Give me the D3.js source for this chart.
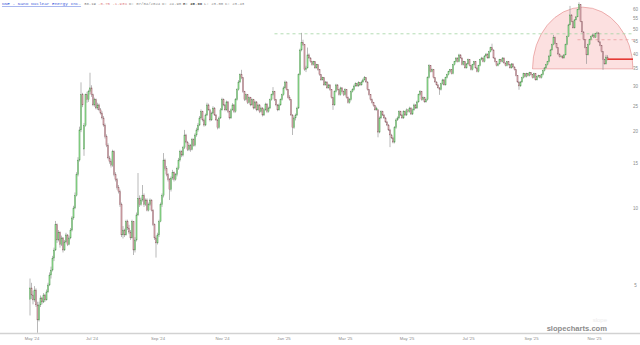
<!DOCTYPE html>
<html>
<head>
<meta charset="utf-8">
<script src="https://cdn.jsdelivr.net/npm/d3@7"></script>
<style>
body { margin: 0; background: #fff; }
</style>
</head>
<body>
<div id="chart"></div>
<script>
const CHART_WIDTH = 640;
const CHART_HEIGHT = 345;

// daily candles [open, high, low, close], grouped by the two-month spans of the x axis
const mayJun24 = [[4.40,5.30,3.80,4.87],[4.87,5.10,4.40,4.57],[4.57,4.75,4.20,4.37],[4.37,4.95,4.30,4.78],[4.78,4.85,4.10,4.18],
  [4.18,4.30,3.25,3.65],[3.65,4.30,3.60,4.18],[4.18,4.55,4.10,4.45],[4.45,4.50,4.20,4.29],[4.29,4.65,4.25,4.57],
  [4.57,4.62,4.30,4.37],[4.37,4.80,4.35,4.70],[4.70,5.10,4.65,5.00],[5.00,5.60,4.95,5.47],[5.47,5.90,5.30,5.72],
  [5.72,6.50,5.65,6.37],[6.37,7.00,6.20,6.85],[6.85,8.90,6.80,8.60],[8.60,8.70,7.30,7.50],[7.50,8.20,7.40,8.05],
  [8.05,8.10,7.00,7.20],[7.20,7.80,7.10,7.64],[7.64,7.70,6.70,6.85],[6.85,7.50,6.80,7.37],[7.37,8.00,7.30,7.85],
  [7.85,7.90,7.10,7.20],[7.20,7.80,7.15,7.64],[7.64,8.35,7.55,8.20],[8.20,9.30,8.10,9.15],[9.15,10.2,9.00,10.0],
  [10.0,11.5,9.90,11.2],[11.2,13.8,11.1,13.5],[13.5,15.8,13.3,15.4],[15.4,20.8,15.2,20.2],[20.2,31.0,19.8,27.7],
  [27.7,28.2,24.8,25.3],[17.0,21.5,16.0,21.0],[21.0,28.0,20.8,27.7],[27.7,28.5,25.8,26.5],[26.5,29.0,26.0,28.5]];
const julAug24 = [[28.5,33.8,27.8,29.5],[29.5,30.2,27.2,27.7],[27.7,28.0,25.0,25.3],[25.3,27.0,24.9,26.5],[26.5,26.8,24.3,24.6],
  [24.6,25.8,24.2,25.3],[25.3,25.6,23.9,24.2],[24.2,24.6,23.2,23.5],[23.5,23.9,22.2,22.5],[22.5,22.9,20.8,21.1],
  [21.1,21.4,18.7,19.0],[19.0,19.4,17.3,17.6],[17.6,17.9,15.5,15.7],[15.7,16.0,14.9,15.2],[15.2,15.5,14.4,14.7],
  [14.7,16.9,14.5,16.6],[16.6,16.8,13.3,13.5],[13.5,13.8,12.7,12.9],[12.9,13.1,11.8,12.0],[12.0,12.3,11.4,11.6],
  [11.6,11.8,10.1,10.3],[10.3,10.5,7.7,7.85],[7.85,8.5,7.6,8.2],[8.2,8.3,7.7,7.85],[7.85,9.0,7.8,8.85],
  [8.85,9.0,8.2,8.35],[8.35,8.6,7.9,8.05],[8.05,8.2,7.5,7.64],[7.64,9.0,7.6,8.85],[8.85,8.9,6.55,6.85],
  [6.85,7.7,6.7,7.5],[7.5,9.6,7.4,9.4],[9.4,13.7,9.3,10.9],[10.9,11.2,10.1,10.3],[10.3,11.0,10.2,10.75],
  [10.75,12.3,10.6,11.2],[11.2,11.4,10.1,10.3],[10.3,10.9,10.2,10.75],[10.75,10.9,9.7,9.8],[9.8,10.5,9.7,10.3],
  [10.3,10.9,10.2,10.75],[10.75,10.8,9.7,9.8],[9.8,9.9,8.5,8.6],[8.6,8.7,7.5,7.64]];
const sepOct24 = [[7.64,7.8,6.4,7.3],[7.3,8.0,7.2,7.85],[7.85,9.0,7.7,8.85],[8.85,10.5,8.8,10.3],[10.3,11.4,10.1,11.2],
  [11.2,16.4,11.0,15.4],[15.4,15.6,14.0,14.3],[14.3,14.6,13.3,13.5],[13.5,13.7,12.7,12.9],[12.9,13.1,10.75,11.8],
  [11.8,13.3,11.6,13.1],[13.1,14.1,12.9,13.8],[13.8,13.9,12.7,12.9],[12.9,13.7,12.8,13.5],[13.5,14.5,13.3,14.3],
  [14.3,15.7,14.1,15.4],[15.4,16.9,15.2,16.6],[16.6,16.8,15.8,16.1],[16.1,17.5,15.9,17.2],[17.2,20.2,17.0,19.3],
  [19.3,19.5,17.9,18.1],[18.1,18.3,16.7,16.9],[16.9,17.9,16.7,17.6],[17.6,17.8,16.6,16.9],[16.9,18.8,16.8,18.5],
  [18.5,18.7,17.4,17.6],[17.6,19.6,17.4,19.3],[19.3,20.6,19.0,20.2],[20.2,21.5,19.9,21.1],[21.1,22.9,20.9,22.5],
  [22.5,24.3,22.2,23.8],[23.8,24.0,21.8,22.1],[22.1,22.4,20.8,21.1],[21.1,23.4,20.9,23.1],[23.1,25.8,22.9,25.3],
  [25.3,25.6,24.0,24.2],[24.2,24.4,21.8,22.1],[22.1,23.8,21.9,23.5],[23.5,25.0,23.3,24.6],[24.6,24.8,22.9,23.1],
  [23.1,23.3,21.9,22.1],[22.1,22.3,20.3,20.6],[20.6,22.8,20.4,22.5]];
const novDec24 = [[22.5,24.6,22.3,24.2],[24.2,27.0,24.0,26.5],[26.5,26.8,25.0,25.3],[25.3,25.5,23.9,24.2],[24.2,26.3,24.0,26.0],
  [26.0,26.2,23.5,23.8],[23.8,24.0,22.2,22.5],[22.5,24.5,22.3,24.2],[24.2,25.7,24.0,25.3],[25.3,25.5,23.5,23.8],
  [23.8,26.9,23.6,26.5],[26.5,29.4,26.3,29.0],[29.0,31.6,28.8,31.1],[31.1,33.6,30.8,33.2],[33.2,34.7,31.9,32.3],
  [32.3,32.5,28.2,28.5],[28.5,28.7,26.2,26.5],[26.5,28.0,26.3,27.7],[27.7,27.9,25.5,25.8],[25.8,27.3,25.6,27.0],
  [27.0,27.2,25.0,25.3],[25.3,26.8,25.1,26.5],[26.5,26.7,24.3,24.6],[24.6,26.3,24.4,26.0],[26.0,26.2,23.9,24.2],
  [24.2,25.6,24.0,25.3],[25.3,25.5,23.5,23.8],[23.8,24.9,23.6,24.6],[24.6,24.8,22.8,23.1],[23.1,24.5,22.9,24.2],
  [24.2,25.8,24.0,25.5],[25.5,25.7,23.5,23.8],[23.8,24.9,23.6,24.6],[24.6,26.8,24.4,26.5],[26.5,28.0,26.3,27.7],
  [27.7,29.7,27.5,28.5],[28.5,28.7,26.2,26.5],[26.5,26.7,25.0,25.3],[25.3,25.5,23.9,24.2],[24.2,25.6,24.0,25.3],
  [25.3,26.8,25.1,26.5]];
const janFeb25 = [[26.5,28.0,26.3,27.7],[27.7,29.9,27.5,29.5],[29.5,31.5,29.3,31.1],[31.1,31.3,28.8,29.0],[29.0,29.2,26.8,27.0],
  [27.0,27.6,26.3,26.5],[26.5,26.7,22.9,23.1],[23.1,23.3,19.3,20.6],[20.6,22.8,20.4,22.5],[22.5,23.4,22.0,23.1],
  [23.1,24.9,22.9,24.6],[24.6,33.6,24.4,33.2],[33.2,42.0,33.0,41.5],[41.5,48.4,41.0,44.3],[44.3,45.5,43.0,43.5],
  [43.5,43.8,34.4,34.7],[34.7,36.0,34.0,35.3],[35.3,42.4,35.1,39.7],[39.7,40.2,38.3,38.6],[38.6,38.9,37.0,37.3],
  [37.3,37.6,36.0,36.3],[36.3,37.6,36.1,37.3],[37.3,37.5,35.0,35.3],[35.3,36.6,35.1,36.3],[36.3,36.5,34.4,34.7],
  [34.7,34.9,32.9,33.2],[33.2,33.4,31.4,31.7],[31.7,32.6,31.5,32.3],[32.3,32.5,30.0,30.3],[30.3,31.4,30.1,31.1],
  [31.1,31.3,29.2,29.5],[29.5,30.6,29.3,30.3],[30.3,30.5,28.7,29.0],[29.0,29.2,26.8,27.0],[27.0,27.2,24.2,25.3],
  [25.3,28.8,25.1,28.5],[28.5,30.6,28.3,30.3],[30.3,30.5,28.8,29.0],[29.0,29.2,27.5,27.7],[27.7,29.8,27.5,29.5],
  [29.5,29.7,28.3,28.5]];
const marApr25 = [[28.5,28.8,27.4,27.7],[27.7,29.4,27.5,29.0],[29.0,29.2,26.8,27.0],[27.0,27.3,25.6,25.8],[25.8,26.9,25.6,26.5],
  [26.5,28.8,26.3,28.5],[28.5,29.4,28.3,29.0],[29.0,30.4,28.8,30.0],[30.0,31.0,29.8,30.6],[30.6,30.8,29.8,30.0],
  [30.0,31.3,29.8,30.9],[30.9,31.1,30.0,30.3],[30.3,31.5,30.1,31.1],[31.1,32.1,30.9,31.7],[31.7,32.8,31.5,32.3],
  [32.3,32.5,30.9,31.1],[31.1,31.3,28.8,29.0],[29.0,29.2,27.5,27.7],[27.7,27.9,26.3,26.5],[26.5,26.8,25.6,25.8],
  [25.8,26.0,24.9,25.1],[25.1,25.3,24.0,24.2],[24.2,24.9,24.0,24.6],[24.2,24.4,18.9,19.8],[19.8,22.8,19.6,22.5],
  [22.5,24.1,22.3,23.8],[23.8,24.0,22.9,23.1],[23.1,23.3,22.3,22.5],[22.5,22.7,21.5,21.7],[21.7,21.9,20.9,21.1],
  [21.1,21.3,20.0,20.2],[20.2,20.4,17.3,19.3],[19.3,19.5,18.6,18.8],[18.8,19.0,17.9,18.1],[18.1,20.9,17.9,20.6],
  [20.6,22.4,20.4,22.1],[22.1,22.8,21.9,22.5],[22.5,24.1,22.3,23.8],[23.8,24.0,22.9,23.1],[23.1,23.3,22.3,22.5],
  [22.5,24.1,22.3,23.8]];
const mayJun25 = [[23.8,24.0,22.9,23.1],[23.1,24.5,22.9,24.2],[24.2,24.4,23.6,23.8],[23.8,24.9,23.6,24.6],[24.6,24.8,23.1,23.3],
  [23.3,24.5,23.1,24.2],[24.2,25.6,24.0,25.3],[25.3,25.5,24.4,24.6],[24.6,26.3,24.4,26.0],[26.0,28.0,25.8,27.7],
  [27.7,28.9,27.5,28.5],[28.5,28.7,26.3,26.5],[26.5,27.3,26.3,27.0],[27.0,27.2,25.8,26.0],[26.0,26.8,25.8,26.5],
  [26.5,32.7,26.3,32.3],[32.3,36.5,32.1,36.0],[36.0,36.2,33.9,34.1],[34.1,35.1,33.9,34.7],[34.7,34.9,32.1,32.3],
  [32.3,32.5,30.9,31.1],[31.1,31.3,30.1,30.3],[30.3,30.5,29.3,29.5],[29.5,29.7,27.7,29.0],[29.0,30.9,28.8,30.6],
  [30.6,32.0,30.4,31.7],[31.7,31.9,30.1,30.3],[30.3,32.6,30.1,32.3],[32.3,33.5,32.1,33.2],[33.2,34.4,33.0,34.1],
  [34.1,35.0,33.9,34.7],[34.7,34.9,33.3,33.5],[33.5,36.6,33.3,36.3],[36.3,37.6,36.1,37.3],[37.3,38.9,37.1,38.6],
  [38.6,38.8,37.1,37.3],[37.3,40.1,37.1,39.7],[39.7,39.9,38.4,38.6],[38.6,38.8,36.1,36.3],[36.3,37.6,36.1,37.3],
  [37.3,37.5,35.1,35.3]];
const julAug25 = [[35.3,36.9,35.1,36.6],[36.6,38.4,36.4,38.0],[38.0,38.2,35.8,36.0],[36.0,36.2,34.5,34.7],[34.7,36.6,34.5,36.3],
  [36.3,37.6,36.1,37.3],[37.3,37.5,35.1,35.3],[35.3,35.5,33.9,34.1],[34.1,36.3,33.9,36.0],[36.0,38.3,35.8,38.0],
  [38.0,39.0,37.8,38.6],[38.6,38.8,37.1,37.3],[37.3,39.6,37.1,39.3],[39.3,40.4,39.1,40.0],[40.0,40.2,38.4,38.6],
  [38.6,41.2,38.4,40.8],[40.8,42.7,40.6,42.3],[42.3,43.9,41.3,41.5],[41.5,41.7,38.4,38.6],[38.6,38.8,37.1,37.3],
  [37.3,37.5,35.8,36.0],[36.0,36.9,35.8,36.6],[36.6,38.3,36.4,38.0],[38.0,38.2,37.1,37.3],[37.3,38.9,37.1,38.6],
  [38.6,38.8,36.7,36.9],[36.9,37.1,35.8,36.0],[36.0,37.6,35.8,37.3],[37.3,37.5,36.1,36.3],[36.3,36.5,35.1,35.3],
  [35.3,36.9,35.1,36.6],[36.6,36.8,35.4,35.6],[35.6,35.8,34.5,34.7],[34.7,34.9,32.7,32.9],[32.9,33.1,30.9,31.1],
  [31.1,31.3,29.0,30.0],[30.0,31.4,29.8,31.1],[31.1,32.6,30.9,32.3],[32.3,33.8,32.1,33.5],[33.5,33.7,32.4,32.6],
  [32.6,33.8,32.4,33.5],[33.5,33.7,32.7,32.9]];
const sepOct25 = [[32.9,34.1,32.7,33.8],[33.8,34.0,33.0,33.2],[33.2,33.4,32.1,32.3],[32.3,33.8,32.1,33.5],[33.5,33.7,31.5,31.7],
  [31.7,32.9,31.5,32.6],[32.6,33.2,32.4,32.9],[32.9,33.1,32.1,32.3],[32.3,33.5,32.1,33.2],[33.2,34.7,33.0,34.4],
  [34.4,35.6,34.2,35.3],[35.3,36.6,35.1,36.3],[36.3,37.6,36.1,37.3],[37.3,39.7,37.1,39.3],[39.3,41.9,39.1,41.5],
  [41.5,43.9,41.3,43.5],[43.5,47.5,43.3,46.4],[46.4,46.8,43.7,43.9],[43.9,44.2,42.1,42.3],[42.3,42.5,39.8,40.0],
  [40.0,40.2,38.8,39.0],[39.0,39.6,38.8,39.3],[39.3,39.5,38.4,38.6],[38.6,40.0,38.4,39.7],[39.7,43.9,39.5,43.5],
  [43.5,47.2,43.3,46.8],[46.8,52.5,46.6,52.0],[52.0,61.7,51.8,56.9],[56.9,57.2,53.3,53.5],[53.5,53.8,50.4,50.6],
  [50.6,54.8,50.4,54.4],[54.4,56.3,54.2,55.9],[55.9,60.0,55.7,59.6],[59.6,63.7,59.4,62.3],[62.3,62.6,53.3,53.5],
  [53.5,53.8,48.6,48.8],[48.8,49.1,45.3,45.5],[45.5,45.8,42.1,42.3],[42.3,42.6,36.6,39.7],[39.7,43.9,39.5,43.5],
  [43.5,45.9,43.3,45.5],[45.5,47.2,45.3,46.8]];
const nov25 = [[46.8,48.0,46.6,47.5],[47.5,47.8,46.2,46.4],[46.4,48.4,46.2,48.0],[48.0,49.0,47.8,48.4],[48.4,48.7,44.4,44.6],
  [44.6,44.9,42.9,43.1],[43.1,43.4,40.6,40.8],[40.8,41.1,34.7,38.0],[38.0,38.3,36.4,36.6],[36.6,39.7,36.4,38.94],
  [38.94,39.6,37.8,38.19]];

const X_LABELS = ["May '24", "Jul '24", "Sep '24", "Nov '24", "Jan '25", "Mar '25", "May '25", "Jul '25", "Sep '25", "Nov '25"];
const Y_TICKS = [5, 10, 15, 20, 25, 30, 35, 40, 45, 50, 55, 60];

const LAST_PRICE = 38.19;
const HIGH_LINE = 48.0;   // green dashed line (Jan '25 high)
const MID_LINE = 45.5;    // red dashed line
const DOME = {from: 335, to: 402, base: 35, top: 61}; // rounded-top drawing (candle index, price)

const segments = [mayJun24, julAug24, sepOct24, novDec24, janFeb25, marApr25, mayJun25, julAug25, sepOct25, nov25];
const candles = segments.flat();

// first candle of each span gets the axis label
let tickIdx = [];
let count = 0;
segments.forEach((s) => { tickIdx.push(count); count += s.length; });

const x = d3.scaleLinear()
  .domain([0, candles.length - 1])
  .range([30, 607.5]);

const y = d3.scaleLog() // price axis is logarithmic
  .domain([5, 60])
  .range([285, 9]);

var chart = d3.select("#chart")
  .append("svg")
  .attr("width", CHART_WIDTH)
  .attr("height", CHART_HEIGHT)
  .style("font-family", "'Liberation Sans', Arial, sans-serif");

chart.append("rect")
  .attr("width", CHART_WIDTH)
  .attr("height", CHART_HEIGHT)
  .attr("fill", "#fff");

// watermark
chart.append("text")
  .attr("x", 607).attr("y", 322)
  .attr("text-anchor", "end")
  .attr("font-size", 6)
  .attr("fill", "#ececec")
  .text("slope");
chart.append("text")
  .attr("x", 607).attr("y", 331)
  .attr("text-anchor", "end")
  .attr("font-size", 7.6)
  .attr("font-weight", "bold")
  .attr("fill", "#8c8c8c")
  .text("slopecharts.com");

// dome drawing
const dx0 = x(DOME.from), dx1 = x(DOME.to), dyb = y(DOME.base);
chart.append("path")
  .attr("d", `M${dx0},${dyb} A${(dx1 - dx0) / 2},${dyb - y(DOME.top)} 0 0 1 ${dx1},${dyb} Z`)
  .attr("fill", "rgba(240,100,100,0.2)")
  .attr("stroke", "rgba(215,90,90,0.6)")
  .attr("stroke-width", 0.7);

// dashed level lines
chart.append("line")
  .attr("x1", x(163)).attr("x2", 634)
  .attr("y1", y(HIGH_LINE)).attr("y2", y(HIGH_LINE))
  .attr("stroke", "#9fd39f")
  .attr("stroke-width", 0.8)
  .attr("stroke-dasharray", "3,3");
chart.append("line")
  .attr("x1", x(365)).attr("x2", 634)
  .attr("y1", y(MID_LINE)).attr("y2", y(MID_LINE))
  .attr("stroke", "#e8a0a0")
  .attr("stroke-width", 0.8)
  .attr("stroke-dasharray", "3,3");

// candles
var g = chart.append("g").attr("class", "candles");

g.selectAll("line.wick")
  .data(candles)
  .join("line")
    .attr("class", "wick")
    .attr("x1", (d, i) => x(i)).attr("x2", (d, i) => x(i))
    .attr("y1", (d) => y(d[1]))
    .attr("y2", (d) => y(d[2]))
    .attr("stroke", "#8a8a8a")
    .attr("stroke-width", 0.6);

g.selectAll("rect.body")
  .data(candles)
  .join("rect")
    .attr("class", "body")
    .attr("x", (d, i) => x(i) - 0.6)
    .attr("width", 1.2)
    .attr("y", (d) => y(Math.max(d[0], d[3])))
    .attr("height", (d) => Math.max(0.7, Math.abs(y(d[0]) - y(d[3]))))
    .attr("fill", (d) => d[3] >= d[0] ? "#84cf84" : "#cc9ca2")
    .attr("stroke", (d) => d[3] >= d[0] ? "#5f9f5f" : "#9a6a72")
    .attr("stroke-width", 0.3);

// last price line
chart.append("line")
  .attr("x1", x(candles.length - 1)).attr("x2", 633)
  .attr("y1", y(LAST_PRICE)).attr("y2", y(LAST_PRICE))
  .attr("stroke", "#e53935")
  .attr("stroke-width", 1.6);

// right price axis
chart.append("g")
  .selectAll("text")
  .data(Y_TICKS)
  .join("text")
    .attr("x", 635.5)
    .attr("y", (d) => y(d) + 1.6)
    .attr("text-anchor", "middle")
    .attr("font-size", 4.5)
    .attr("fill", "#8a8a8a")
    .text((d) => d);

// bottom axis
chart.append("line")
  .attr("x1", 0).attr("x2", CHART_WIDTH)
  .attr("y1", 333.5).attr("y2", 333.5)
  .attr("stroke", "#d2d2d2")
  .attr("stroke-width", 1.4);

chart.append("g")
  .selectAll("text")
  .data(X_LABELS)
  .join("text")
    .attr("x", (d, i) => x(tickIdx[i]) + 2)
    .attr("y", 339.5)
    .attr("text-anchor", "middle")
    .attr("font-size", 4.2)
    .attr("fill", "#8a8a8a")
    .text((d) => d);

// header line
var header = chart.append("g")
  .attr("font-family", "'Liberation Mono', 'DejaVu Sans Mono', monospace");

header.append("text")
  .attr("x", 2).attr("y", 5)
  .attr("font-size", 4.4)
  .attr("fill", "#3b5bdb")
  .attr("text-decoration", "underline")
  .text("NNE - Nano Nuclear Energy Inc.");

const headerParts = [
  {t: "38.19", x: 84, c: "#777"},
  {t: "-0.75 -1.93%", x: 98, c: "#e08080"},
  {t: "D: 07/04/2024", x: 129, c: "#888"},
  {t: "O: 24.90", x: 162, c: "#888"},
  {t: "H: 25.60", x: 183, c: "#555", b: true},
  {t: "L: 23.00", x: 204, c: "#888"},
  {t: "C: 23.43", x: 225, c: "#888"}
];
header.selectAll("text.part")
  .data(headerParts)
  .join("text")
    .attr("class", "part")
    .attr("x", (d) => d.x).attr("y", 5)
    .attr("font-size", 4.0)
    .attr("fill", (d) => d.c)
    .attr("font-weight", (d) => d.b ? "bold" : "normal")
    .text((d) => d.t);
</script>
</body>
</html>
